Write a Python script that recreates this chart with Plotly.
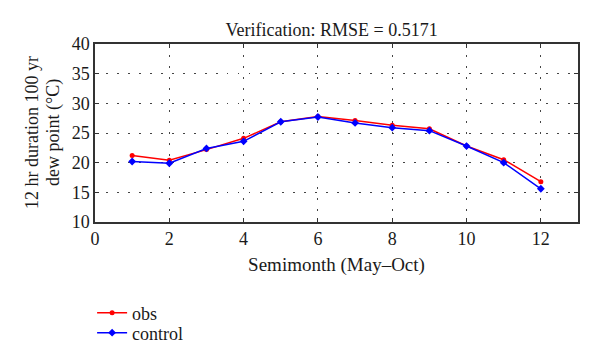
import plotly.graph_objects as go

semimonth = [1, 2, 3, 4, 5, 6, 7, 8, 9, 10, 11, 12]
obs = [21.2, 20.4, 22.2, 24.1, 26.9, 27.8, 27.1, 26.3, 25.7, 22.8, 20.5, 16.8]
control = [20.2, 19.9, 22.4, 23.6, 26.9, 27.7, 26.7, 25.9, 25.4, 22.8, 20.0, 15.6]
x_ticks = [0, 2, 4, 6, 8, 10, 12]
y_ticks = [10, 15, 20, 25, 30, 35, 40]
y_title_lines = ["12 hr duration 100 yr", "dew point (°C)"]

FONT = "Liberation Serif"
TXT = "#1a1a1a"

fig = go.Figure()
fig.add_trace(go.Scatter(x=semimonth, y=obs, mode="lines+markers", name="obs",
                         line=dict(color="#ff0000", width=1.5),
                         marker=dict(symbol="circle", size=5, color="#ff0000"),
                         legend="legend"))
fig.add_trace(go.Scatter(x=semimonth, y=control, mode="lines+markers", name="control",
                         line=dict(color="#0000ff", width=1.5),
                         marker=dict(symbol="diamond", size=6, color="#0000ff"),
                         legend="legend2"))

axis_common = dict(showline=True, linecolor="#333333", linewidth=1.5, mirror="ticks",
                   ticks="inside", ticklen=4, tickcolor="#333333", tickwidth=1,
                   showgrid=True, gridcolor="#444444", griddash="1.5px,9.5px", gridwidth=1.2,
                   zeroline=False, automargin=False,
                   tickfont=dict(family=FONT, size=18, color=TXT))

leg_common = dict(xanchor="left", yanchor="middle",
                  font=dict(family=FONT, size=18, color=TXT),
                  bgcolor="rgba(0,0,0,0)")

fig.update_layout(
    width=600, height=362,
    margin=dict(l=87, r=30, t=36, b=148),
    paper_bgcolor="white", plot_bgcolor="white",
    title=dict(text="Verification: RMSE = 0.5171", x=0.49, xref="paper", xanchor="center",
               y=0.939, yanchor="middle", font=dict(family=FONT, size=18, color=TXT)),
    xaxis=dict(range=[0, 13], tickvals=x_ticks, **axis_common,
               title=dict(text="Semimonth (May–Oct)", font=dict(family=FONT, size=19, color=TXT),
                          standoff=9)),
    yaxis=dict(range=[10, 40], tickvals=y_ticks, **axis_common),
    legend=dict(x=-0.006, y=-(305 - 214) / 178, **leg_common),
    legend2=dict(x=-0.006, y=-(325 - 214) / 178, **leg_common),
    showlegend=True,
)

for line_text, shift in zip(y_title_lines, [-63, -42]):
    fig.add_annotation(text=line_text, xref="paper", yref="paper", x=0, y=0.5,
                       xshift=shift, textangle=-90, showarrow=False,
                       xanchor="center", yanchor="middle",
                       font=dict(family=FONT, size=18, color=TXT))

fig.write_html("out.html")
